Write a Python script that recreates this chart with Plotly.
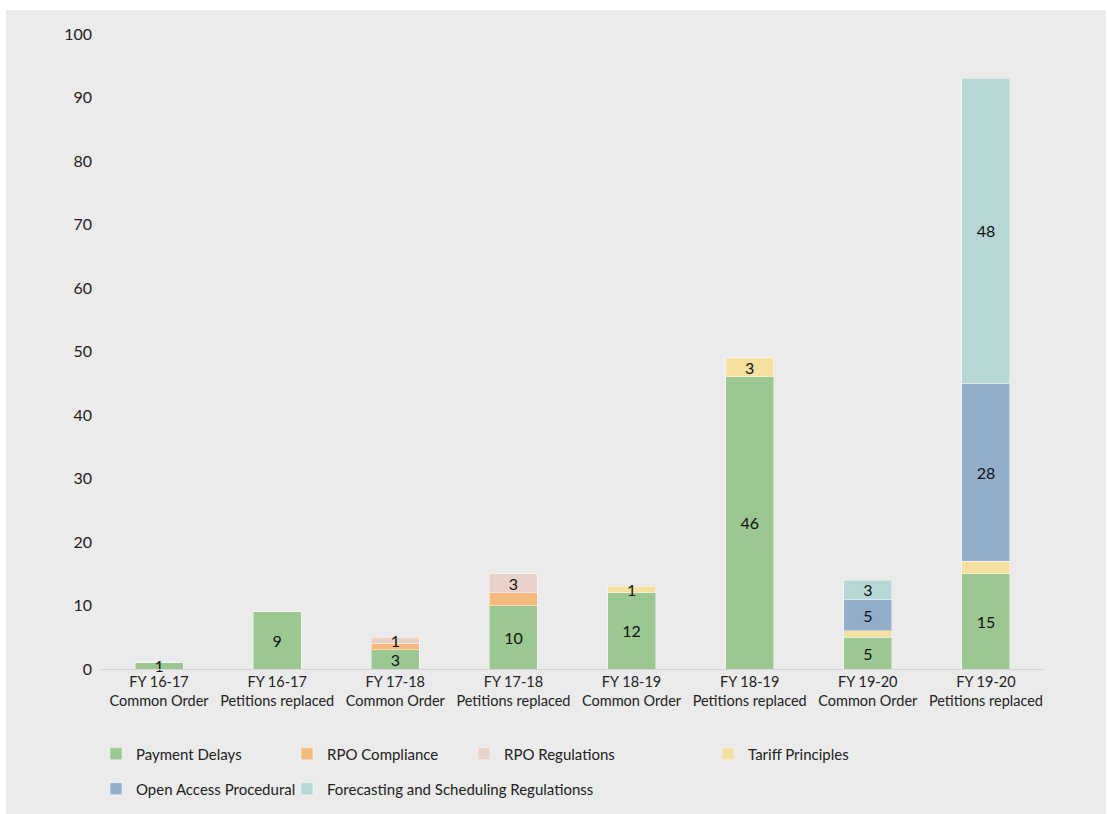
import plotly.graph_objects as go

categories = [
    "FY 16-17<br>Common Order", "FY 16-17<br>Petitions replaced",
    "FY 17-18<br>Common Order", "FY 17-18<br>Petitions replaced",
    "FY 18-19<br>Common Order", "FY 18-19<br>Petitions replaced",
    "FY 19-20<br>Common Order", "FY 19-20<br>Petitions replaced",
]

payment_delays = [1, 9, 3, 10, 12, 46, 5, 15]
payment_delays_lbl = ["1", "9", "3", "10", "12", "46", "5", "15"]
rpo_compliance = [None, None, 1, 2, None, None, None, None]
rpo_compliance_lbl = ["", "", "", "", "", "", "", ""]
rpo_regulations = [None, None, 1, 3, None, None, None, None]
rpo_regulations_lbl = ["", "", "1", "3", "", "", "", ""]
tariff_principles = [None, None, None, None, 1, 3, 1, 2]
tariff_principles_lbl = ["", "", "", "", "1", "3", "", ""]
open_access = [None, None, None, None, None, None, 5, 28]
open_access_lbl = ["", "", "", "", "", "", "5", "28"]
forecasting = [None, None, None, None, None, None, 3, 48]
forecasting_lbl = ["", "", "", "", "", "", "3", "48"]

y_ticks = [0, 10, 20, 30, 40, 50, 60, 70, 80, 90, 100]

series = [
    ("Payment Delays", payment_delays, payment_delays_lbl, "#9BC791"),
    ("RPO Compliance", rpo_compliance, rpo_compliance_lbl, "#F6B97E"),
    ("RPO Regulations", rpo_regulations, rpo_regulations_lbl, "#E8D1C7"),
    ("Tariff Principles", tariff_principles, tariff_principles_lbl, "#F5E0A0"),
    ("Open Access Procedural", open_access, open_access_lbl, "#93AECB"),
    ("Forecasting and Scheduling Regulationss", forecasting, forecasting_lbl, "#B7D7D5"),
]

W, H = 1108, 814
L, R, T, B = 100, 1045, 34, 669
pw, ph = R - L, B - T

def px_x(p):
    return (p - L) / pw

def px_y(p):
    return (B - p) / ph

# legend positions (legend left px, row center px)
legend_pos = [
    (96, 754), (287, 754), (464, 754), (708, 754),
    (96, 789), (287, 789),
]

fig = go.Figure()
for i, (name, vals, lbl, col) in enumerate(series):
    lg = "legend" if i == 0 else f"legend{i+1}"
    fig.add_trace(go.Bar(
        name=name, x=categories, y=vals, text=lbl,
        textposition="inside", insidetextanchor="middle", textangle=0,
        textfont=dict(family="Lato", size=16, color="#111111"),
        marker=dict(color=col, line=dict(color="rgba(255,255,255,0.45)", width=1)),
        legend=lg, showlegend=True, cliponaxis=False, hoverinfo="x+y+name",
    ))

layout_legends = {}
for i, (sx, sy) in enumerate(legend_pos):
    key = "legend" if i == 0 else f"legend{i+1}"
    layout_legends[key] = dict(
        x=px_x(sx), y=px_y(sy), xanchor="left", yanchor="middle",
        xref="paper", yref="paper", orientation="h",
        bgcolor="rgba(0,0,0,0)", borderwidth=0,
        font=dict(family="Lato", size=15, color="#222222"),
    )

fig.update_layout(
    width=W, height=H,
    margin=dict(l=L, r=W - R, t=T, b=H - B, pad=0, autoexpand=False),
    paper_bgcolor="white", plot_bgcolor="rgba(0,0,0,0)",
    barmode="stack", bargap=0.594, showlegend=True,
    uniformtext=dict(minsize=16, mode="show"),
    font=dict(family="Lato", color="#222222"),
    shapes=[dict(type="rect", xref="paper", yref="paper", layer="below",
                 x0=px_x(6), x1=px_x(1106), y0=px_y(814), y1=px_y(10),
                 fillcolor="#EBEBEB", line=dict(width=0))],
    xaxis=dict(showgrid=False, showline=True, linecolor="#D4D4D4", linewidth=1,
               ticks="", tickfont=dict(family="Lato", size=14.5, color="#222222"),
               fixedrange=True),
    yaxis=dict(range=[0, 100], tickvals=y_ticks, showgrid=False, zeroline=False,
               showline=False, ticks="", ticklabelstandoff=7,
               tickfont=dict(family="Lato", size=16, color="#222222"),
               fixedrange=True),
    **layout_legends,
)

fig.write_html("out.html")
